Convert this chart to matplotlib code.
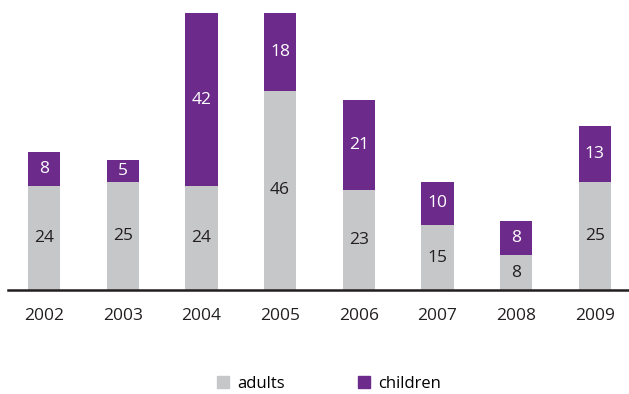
import matplotlib
matplotlib.use("Agg")
import matplotlib.pyplot as plt
from matplotlib.patches import Patch

years = ["2002", "2003", "2004", "2005", "2006", "2007", "2008", "2009"]
adults = [24, 25, 24, 46, 23, 15, 8, 25]
children = [8, 5, 42, 18, 21, 10, 8, 13]

GRAY = "#c6c7c9"
PURPLE = "#6c2a8a"
DARK = "#231f20"
FONT = ["Open Sans", "DejaVu Sans"]

fig = plt.figure(figsize=(6.29, 3.94), dpi=100)
ax = fig.add_axes([8 / 629, (394 - 290) / 394, 621 / 629, 277 / 394])

ymax = 64
x = list(range(len(years)))
width = 0.41
ax.bar(x, adults, width=width, color=GRAY, zorder=2)
ax.bar(x, children, width=width, bottom=adults, color=PURPLE, zorder=2)

for i, (a, c) in enumerate(zip(adults, children)):
    ax.text(i, a / 2, str(a), ha="center", va="center", fontsize=12.5,
            color=DARK, family=FONT, zorder=3)
    top = min(a + c, ymax)
    ax.text(i, (a + top) / 2, str(c), ha="center", va="center", fontsize=12.5,
            color="white", family=FONT, zorder=3)

ax.set_xlim(-36 / 78.7, (621 - 36) / 78.7)
ax.set_ylim(0, ymax)
ax.set_yticks([])
ax.set_xticks(x)
ax.set_xticklabels(years, family=FONT, fontsize=12.5, color=DARK)
ax.tick_params(axis="x", length=0, pad=13)
for side in ("top", "right", "left"):
    ax.spines[side].set_visible(False)
ax.spines["bottom"].set_color(DARK)
ax.spines["bottom"].set_linewidth(1.8)
ax.spines["bottom"].set_zorder(4)

handles = [Patch(color=GRAY, label="adults"), Patch(color=PURPLE, label="children")]
fig.legend(handles=handles, loc="center", bbox_to_anchor=(329 / 629, 1 - 384 / 394),
           ncol=2, frameon=False, handlelength=0.72, handleheight=0.72,
           handletextpad=0.5, columnspacing=4.4,
           prop={"family": FONT, "size": 12})

fig.savefig("out.png", dpi=100)
